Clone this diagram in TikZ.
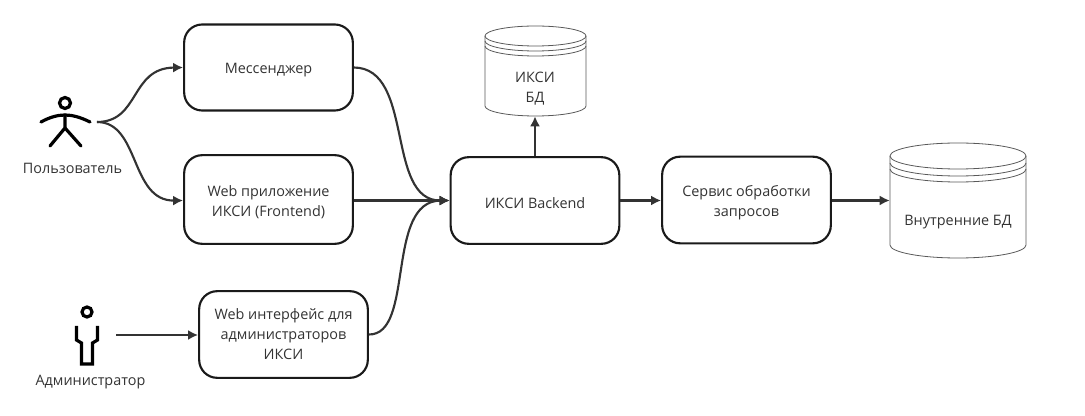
\documentclass[tikz,border=0pt]{standalone}
\usepackage{fontspec}
\setmainfont{Open Sans}
\usepackage{xcolor}
\usetikzlibrary{positioning,arrows.meta}
\definecolor{linecol}{HTML}{333333}
\definecolor{boxcol}{HTML}{1A1A1A}
\definecolor{txtcol}{HTML}{333333}
\newcommand{\droptext}[1]{\raisebox{-2.25pt}[\height][\depth]{\begin{tabular}{@{}c@{}}#1\end{tabular}}}
\tikzset{
  px/.style={x=0.75pt, y=-0.75pt},
  box/.style={draw=boxcol, line width=1.6pt, rounded corners=13.5pt, minimum width=126.5pt, minimum height=#1, inner sep=0pt, align=center, text=txtcol, font=\fontsize{10.8}{15}\selectfont, execute at begin node={\rule{0pt}{12pt}}},
  box/.default=65pt,
  label/.style={text=txtcol, inner sep=0pt, font=\fontsize{10.8}{13}\selectfont},
  dbnode/.style={inner sep=0pt, align=center, text=txtcol, font=\fontsize{10.8}{15}\selectfont},
  conn/.style={draw=linecol, line width=1.6pt, -{Latex[length=7.5pt,width=7.5pt]}},
  figure/.style={draw=black, line width=2.4pt, line join=miter},
  cyl/.style={draw=black!65, line width=0.6pt}
}
\begin{document}
\begin{tikzpicture}[px]
\useasboundingbox (0,0) rectangle (1085,416);
% boxes
\node[box=64.5pt] (msg) at (268.5,67.5) {Мессенджер};
\node[box=66.5pt] (web) at (268.5,199.5) {\droptext{Web приложение\\ИКСИ (Frontend)}};
\node[box=65pt] (adm) at (283.5,334.5) {Web интерфейс для\\администраторов\\ИКСИ};
\node[box=65pt] (back) at (535,200.5) {ИКСИ Backend};
\node[box=65pt] (srv) at (746.5,200) {\droptext{Сервис обработки\\запросов}};
% databases
\node[dbnode, minimum width=75.75pt, minimum height=67.5pt] (dbi) at (535,71) {};
\node[dbnode] (dbit) at (535,88.5) {ИКСИ\\БД};
\draw[cyl] (485,36) arc[start angle=180, end angle=360, x radius=50.5, y radius=10] -- (586,106) arc[start angle=0, end angle=180, x radius=50.5, y radius=10] -- cycle;
\draw[cyl] (485,36) arc[start angle=180, end angle=0, x radius=50.5, y radius=10];
\draw[cyl] (485,41) arc[start angle=180, end angle=0, x radius=50.5, y radius=10];
\draw[cyl] (485,46) arc[start angle=180, end angle=0, x radius=50.5, y radius=10];
\node[dbnode, minimum width=102pt, minimum height=86.25pt] (dbv) at (958,200.5) {};
\node[dbnode] (dbvt) at (958,222) {Внутренние БД};
\draw[cyl] (890,156) arc[start angle=180, end angle=360, x radius=68, y radius=13] -- (1026,245) arc[start angle=0, end angle=180, x radius=68, y radius=13] -- cycle;
\draw[cyl] (890,156) arc[start angle=180, end angle=0, x radius=68, y radius=13];
\draw[cyl] (890,163) arc[start angle=180, end angle=0, x radius=68, y radius=13];
\draw[cyl] (890,169) arc[start angle=180, end angle=0, x radius=68, y radius=13];
% user
\draw[figure] (65,103) circle[radius=5.5];
\draw[figure, line cap=round] (41,122) .. controls (50,117) and (58,115) .. (65,115) .. controls (72,115) and (80,117) .. (90,122);
\draw[figure, line cap=round] (65,115) -- (65,128) -- (50,146);
\draw[figure, line cap=round] (65,128) -- (81,146);
\node[label] (usrtxt) at (72.5,168) {Пользователь};
\coordinate (usr) at (97,122);
% administrator
\draw[figure] (87,312) circle[radius=5];
\draw[figure] (76.5,326) -- (76.5,340) -- (81.5,343) -- (81.5,364) -- (92.5,364) -- (92.5,343) -- (97.5,340) -- (97.5,326);
\node[label] (admtxt) at (90.5,382) {Администратор};
\coordinate (admin) at (116,335);
% connectors
\draw[conn] (usr) .. controls (140,122) and (130,68) .. (msg.west);
\draw[conn] (usr) .. controls (140,122) and (130,201) .. (web.west |- back.west);
\draw[conn] (admin) -- (adm.west |- admin);
\draw[conn] (msg.east) .. controls (415,68) and (385,201) .. (back.west);
\draw[conn] (web.east |- back.west) -- (back.west);
\draw[conn] (adm.east) .. controls (415,335) and (385,201) .. (back.west);
\draw[conn] (back.north) -- (dbi.south);
\draw[conn] (back.east) -- (srv.west |- back.east);
\draw[conn] (srv.east |- back.east) -- (dbv.west |- back.east);
\end{tikzpicture}
\end{document}
